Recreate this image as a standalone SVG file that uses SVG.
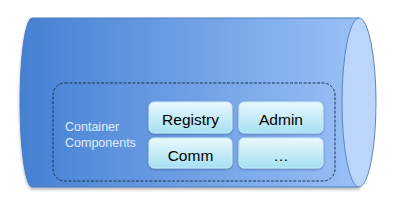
<svg xmlns="http://www.w3.org/2000/svg" width="408" height="212" viewBox="0 0 408 212">
<defs>
<linearGradient id="body" x1="0" y1="0" x2="1" y2="0">
<stop offset="0" stop-color="#4580d2"/>
<stop offset="1" stop-color="#9ac0f7"/>
</linearGradient>
<linearGradient id="box" x1="0" y1="0" x2="0" y2="1">
<stop offset="0" stop-color="#eaf8fd"/>
<stop offset="1" stop-color="#a6e0f3"/>
</linearGradient>
<filter id="sh" x="-5%" y="-5%" width="110%" height="115%">
<feDropShadow dx="0" dy="2" stdDeviation="1.5" flood-color="#000" flood-opacity="0.3"/>
</filter>
<filter id="bsh" x="-5%" y="-5%" width="110%" height="120%">
<feDropShadow dx="0" dy="1" stdDeviation="0.8" flood-color="#1a3d70" flood-opacity="0.5"/>
</filter>
</defs>
<style>
.box{fill:url(#box);stroke:#c8eefa;stroke-width:1}
.lbl{font-family:"Liberation Sans",Arial,sans-serif;font-size:15.5px;fill:#000;text-anchor:middle}
.side{font-family:"Liberation Sans",Arial,sans-serif;font-size:12.5px;fill:#e2edfb}
</style>
<g id="cylinder">
<path d="M359 18 L32 18 A12 84.5 0 0 0 32 187 L359 187 Z" fill="url(#body)" stroke="#4d7cc0" stroke-width="1" filter="url(#sh)"/>
<ellipse cx="359" cy="102.5" rx="17" ry="84.5" fill="#bcd6fb" stroke="#5a86c2" stroke-width="1"/>
</g>
<g id="container">
<rect x="53" y="83" width="282" height="98" rx="12" fill="none" stroke="#1d3557" stroke-width="1" stroke-dasharray="3,1.5"/>
<text class="side" x="65" y="131">Container</text>
<text class="side" x="65" y="147">Components</text>
</g>
<g id="registry">
<rect class="box" x="149" y="102" width="83" height="31" rx="5" filter="url(#bsh)"/>
<text class="lbl" x="190.5" y="125">Registry</text>
</g>
<g id="admin">
<rect class="box" x="239" y="102" width="84" height="31" rx="5" filter="url(#bsh)"/>
<text class="lbl" x="281" y="125">Admin</text>
</g>
<g id="comm">
<rect class="box" x="149" y="138" width="83" height="30" rx="5" filter="url(#bsh)"/>
<text class="lbl" x="190.5" y="161">Comm</text>
</g>
<g id="more">
<rect class="box" x="239" y="138" width="84" height="30" rx="5" filter="url(#bsh)"/>
<text class="lbl" x="281" y="161">…</text>
</g>
<g id="connectors"/>
</svg>
